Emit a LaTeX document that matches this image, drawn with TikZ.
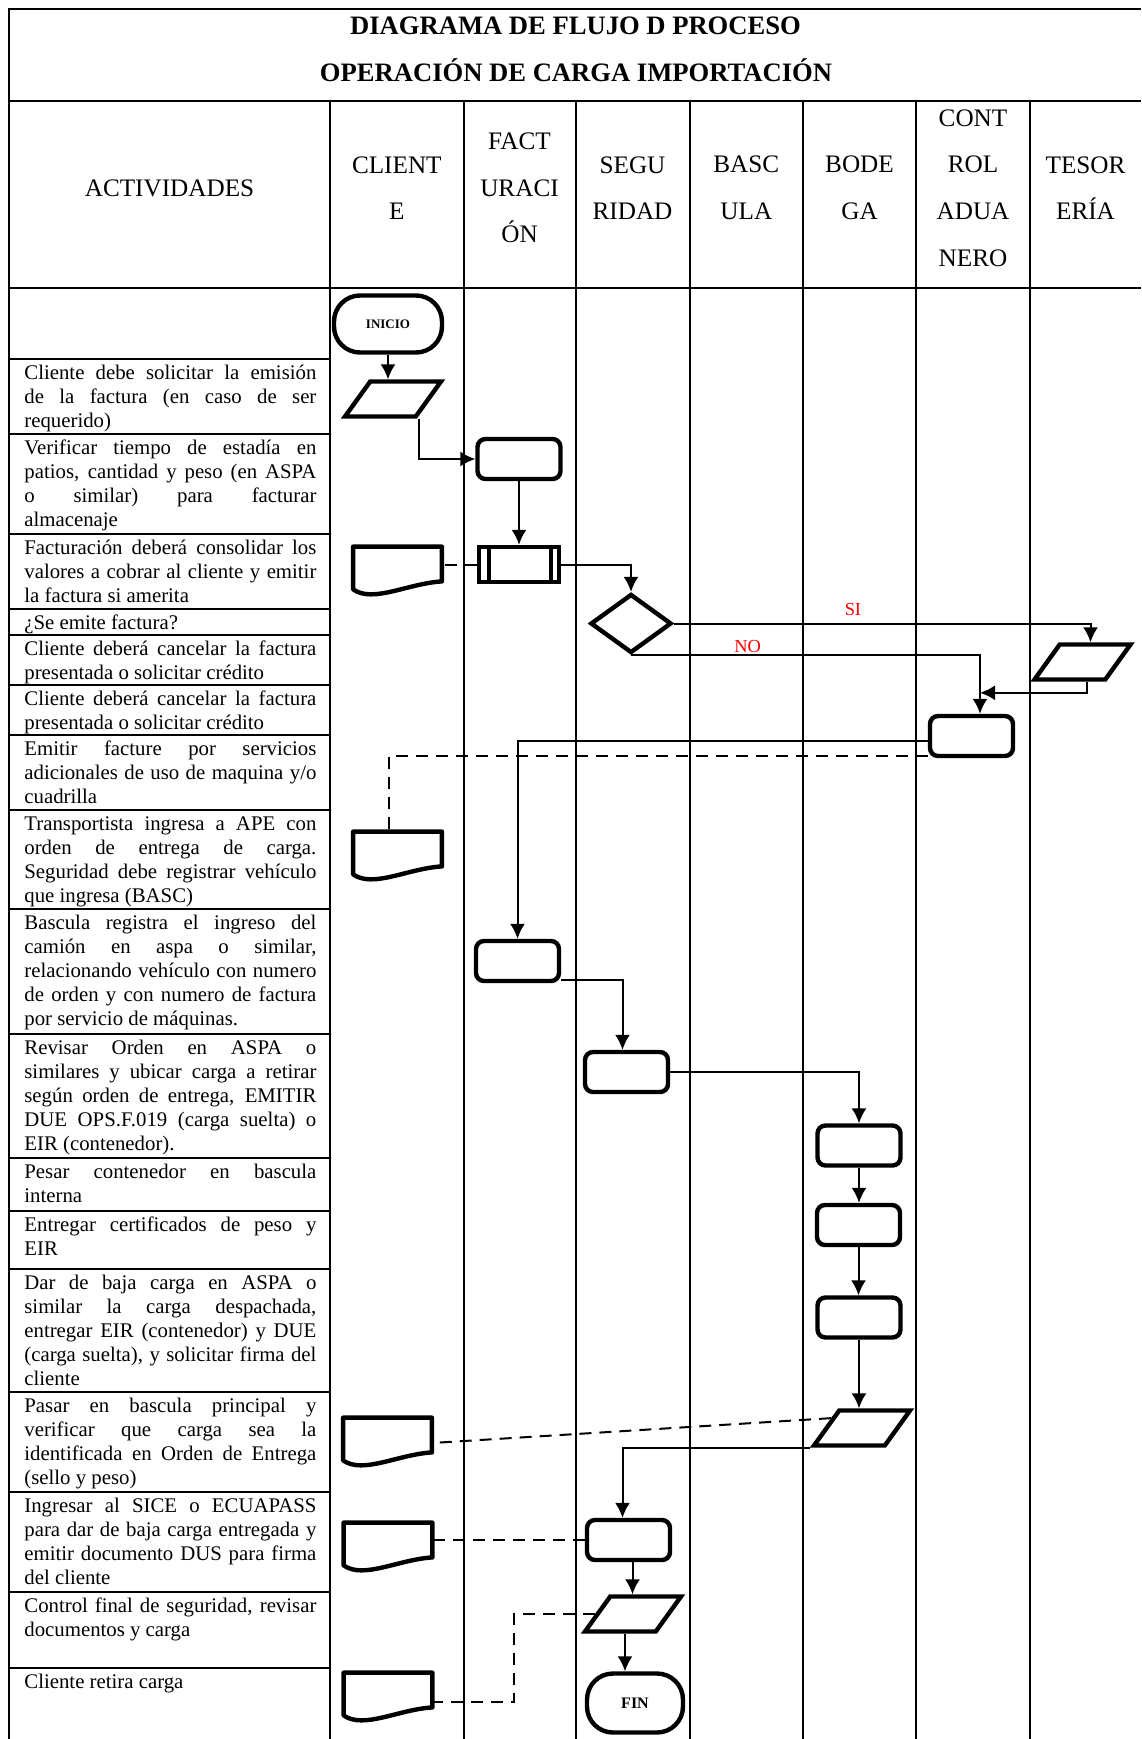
\documentclass[tikz,border=0pt]{standalone}
\usepackage{fontspec}
\setmainfont{Liberation Serif}
\usetikzlibrary{calc, arrows.meta, shapes.geometric}
\tikzset{>={Latex[length=7.5pt,width=7.5pt]}}
\tolerance=9999
\hbadness=10000

\begin{document}
\begin{tikzpicture}[x=0.5pt, y=-0.5pt,
  colline/.style = {line width=1pt},
  rowline/.style = {line width=1.4pt},
  shapeline/.style = {draw, line width=2.2pt},
  term/.style = {shapeline, rectangle, rounded corners=13pt, minimum width=54pt, minimum height=28.5pt, font=\bfseries\fontsize{6.5}{7}\selectfont},
  proc/.style = {shapeline, rectangle, rounded corners=4pt, minimum width=41.5pt, minimum height=20pt},
  predef/.style = {shapeline, rectangle, minimum width=40pt, minimum height=17.5pt},
  decision/.style = {shapeline, diamond, inner sep=1pt, minimum width=40.5pt, minimum height=29.5pt},
  inout/.style = {shapeline, trapezium, trapezium left angle=61, trapezium right angle=119, trapezium stretches, minimum width=48pt, minimum height=17.5pt, inner sep=1pt},
  docu/.style = {rectangle, minimum width=44pt, minimum height=23pt},
  conn/.style = {line width=1pt},
  dconn/.style = {line width=1pt, dash pattern=on 6pt off 4pt},
  activity/.style = {anchor=north west, text width=146pt, align=justify, inner xsep=0pt, inner ysep=1.6pt, font=\fontsize{10.4}{12}\selectfont},
  lane/.style = {align=center, font=\fontsize{12.6}{23.3}\selectfont},
  answer/.style = {text=red, font=\fontsize{9.2}{11}\selectfont}]

\useasboundingbox (0,0) rectangle (1141,1739);

\draw[rowline] (1141,9) -- (9,9) -- (9,1739);
\draw[rowline] (9,101) -- (1141,101);
\draw[rowline] (9,288) -- (1141,288);
\foreach \x in {330,463.5,575.5,689.5,803,916,1030}
  \draw[colline] (\x,101) -- (\x,1739);
\foreach \y in {359,434,534,609,635,685,735,810,909,1034,1158,1211,1269,1392,1492,1592,1668}
  \draw[rowline] (9,\y) -- (330,\y);

\node[anchor=base, font=\bfseries\fontsize{13.3}{16}\selectfont] (titulo) at (575.5,35) {DIAGRAMA DE FLUJO D PROCESO};
\node[anchor=base, font=\bfseries\fontsize{13.3}{16}\selectfont] (subtitulo) at (576,81.5) {OPERACIÓN DE CARGA IMPORTACIÓN};

\node[lane] (hact) at (169.5,188) {ACTIVIDADES};
\node[lane] (hcli) at (396.8,188) {CLIENT\\E};
\node[lane] (hfac) at (519.5,188) {FACT\\URACI\\ÓN};
\node[lane] (hseg) at (632.5,188) {SEGU\\RIDAD};
\node[lane] (hbas) at (746.3,188) {BASC\\ULA};
\node[lane] (hbod) at (859.5,188) {BODE\\GA};
\node[lane] (hcon) at (973,188) {CONT\\ROL\\ADUA\\NERO};
\node[lane] (htes) at (1085.5,188) {TESOR\\ERÍA};

\node[activity] (act1) at (24,359) {\strut Cliente debe solicitar la emisión\linebreak de la factura (en caso de ser\linebreak requerido)};
\node[activity] (act2) at (24,434) {\strut Verificar tiempo de estadía en\linebreak patios, cantidad y peso (en ASPA\linebreak o similar) para facturar\linebreak almacenaje};
\node[activity] (act3) at (24,534) {\strut Facturación deberá consolidar los\linebreak valores a cobrar al cliente y emitir\linebreak la factura si amerita};
\node[activity] (act4) at (24,609) {\strut ¿Se emite factura?};
\node[activity] (act5) at (24,635) {\strut Cliente deberá cancelar la factura\linebreak presentada o solicitar crédito};
\node[activity] (act6) at (24,685) {\strut Cliente deberá cancelar la factura\linebreak presentada o solicitar crédito};
\node[activity] (act7) at (24,735) {\strut Emitir facture por servicios\linebreak adicionales de uso de maquina y/o\linebreak cuadrilla};
\node[activity] (act8) at (24,810) {\strut Transportista ingresa a APE con\linebreak orden de entrega de carga.\linebreak Seguridad debe registrar vehículo\linebreak que ingresa (BASC)};
\node[activity] (act9) at (24,909) {\strut Bascula registra el ingreso del\linebreak camión en aspa o similar,\linebreak relacionando vehículo con numero\linebreak de orden y con numero de factura\linebreak por servicio de máquinas.};
\node[activity] (act10) at (24,1034) {\strut Revisar Orden en ASPA o\linebreak similares y ubicar carga a retirar\linebreak según orden de entrega, EMITIR\linebreak DUE OPS.F.019 (carga suelta) o\linebreak EIR (contenedor).};
\node[activity] (act11) at (24,1158) {\strut Pesar contenedor en bascula\linebreak interna};
\node[activity] (act12) at (24,1211) {\strut Entregar certificados de peso y\linebreak EIR};
\node[activity] (act13) at (24,1269) {\strut Dar de baja carga en ASPA o\linebreak similar la carga despachada,\linebreak entregar EIR (contenedor) y DUE\linebreak (carga suelta), y solicitar firma del\linebreak cliente};
\node[activity] (act14) at (24,1392) {\strut Pasar en bascula principal y\linebreak verificar que carga sea la\linebreak identificada en Orden de Entrega\linebreak (sello y peso)};
\node[activity] (act15) at (24,1492) {\strut Ingresar al SICE o ECUAPASS\linebreak para dar de baja carga entregada y\linebreak emitir documento DUS para firma\linebreak del cliente};
\node[activity] (act16) at (24,1592) {\strut Control final de seguridad, revisar\linebreak documentos y carga};
\node[activity] (act17) at (24,1668) {\strut Cliente retira carga};

\node[term] (inicio) at (388,324) {INICIO};
\node[inout] (para) at (393,399) {};
\node[proc] (facta) at (519,459) {};
\node[docu] (doca) at (397.5,570) {};
\node[predef] (factb) at (519,564.5) {};
\node[decision] (decis) at (631,623.5) {};
\node[inout] (parb) at (1082.5,662) {};
\node[proc] (ctrl) at (971.5,736) {};
\node[docu] (docb) at (397.5,855) {};
\node[proc] (factc) at (517.5,961) {};
\node[proc] (sega) at (626.5,1072) {};
\node[proc] (boda) at (859,1145.5) {};
\node[proc] (bodb) at (858.5,1225) {};
\node[proc] (bodc) at (859,1317.5) {};
\node[inout] (parc) at (862,1428) {};
\node[docu] (docc) at (387.5,1441) {};
\node[proc] (segb) at (628.5,1540) {};
\node[docu] (docd) at (388,1546) {};
\node[inout] (pard) at (633,1614) {};
\node[docu] (doce) at (388,1696) {};
\node[term, minimum width=48pt, minimum height=29.5pt, font=\bfseries\fontsize{8}{9}\selectfont] (fin) at (635,1703) {FIN};

\foreach \d in {doca,docb,docc,docd,doce}
  \draw[line width=2.2pt, line join=round] (\d.north west) -- (\d.north east) -- ([yshift=6pt]\d.south east) .. controls ([xshift=-17pt,yshift=5pt]\d.south east) and ([xshift=10pt,yshift=-5pt]\d.south west) .. ([yshift=2pt]\d.south west) -- cycle;
\draw[line width=2pt] ([xshift=6pt]factb.north west) -- ([xshift=6pt]factb.south west)
  ([xshift=-5pt]factb.north east) -- ([xshift=-5pt]factb.south east);

\draw[conn,->] (inicio.south) -- (inicio.south |- para.north);
\draw[conn,->] ([xshift=1pt]para.bottom right corner) |- (facta.west);
\draw[conn,->] (facta.south) -- (facta.south |- factb.north);
\draw[dconn] (factb.west) -- (factb.west -| doca.east);
\draw[conn,->] (factb.east) -| (decis.north);
\draw[conn,->] (decis.east) -| ([xshift=4pt]parb.north) node[answer, pos=0.215, above] (si) {SI};
\draw[conn,->] (decis.south) -| ([xshift=4.25pt]ctrl.north) node[answer, pos=0.167, above, inner sep=1pt] (no) {NO};
\draw[conn,->] ([xshift=2pt]parb.south) |- ([xshift=4.25pt,yshift=10.5pt]ctrl.north);
\draw[conn,->] ([yshift=-2.5pt]ctrl.west) -| (factc.north);
\draw[dconn] ([yshift=1pt]ctrl.south west) -| ([xshift=-4.5pt]docb.north);
\draw[conn,->] ([yshift=1.5pt]factc.south east) -| ([xshift=-2pt]sega.north);
\draw[conn,->] (sega.east) -| (boda.north);
\draw[conn,->] (boda.south) -- (boda.south |- bodb.north);
\draw[conn,->] (bodb.south) -- (bodb.south |- bodc.north);
\draw[conn,->] (bodc.south) -- (bodc.south |- parc.north);
\draw[dconn] ($(parc.top left corner)!0.25!(parc.bottom left corner)$) -- ([yshift=-1pt]docc.east);
\draw[conn,->] (parc.bottom left corner) -| ([xshift=-3pt]segb.north);
\draw[dconn] (segb.west) -- (segb.west -| docd.east);
\draw[conn,->] ([xshift=2pt]segb.south) -- ([xshift=2pt]segb.south |- pard.north);
\draw[dconn] (pard.west) -- ++(-81,0) |- ([yshift=-3pt]doce.east);
\draw[conn,->] ([xshift=-4pt]pard.south) -- ([xshift=-4pt]pard.south |- fin.north);

\end{tikzpicture}
\end{document}
